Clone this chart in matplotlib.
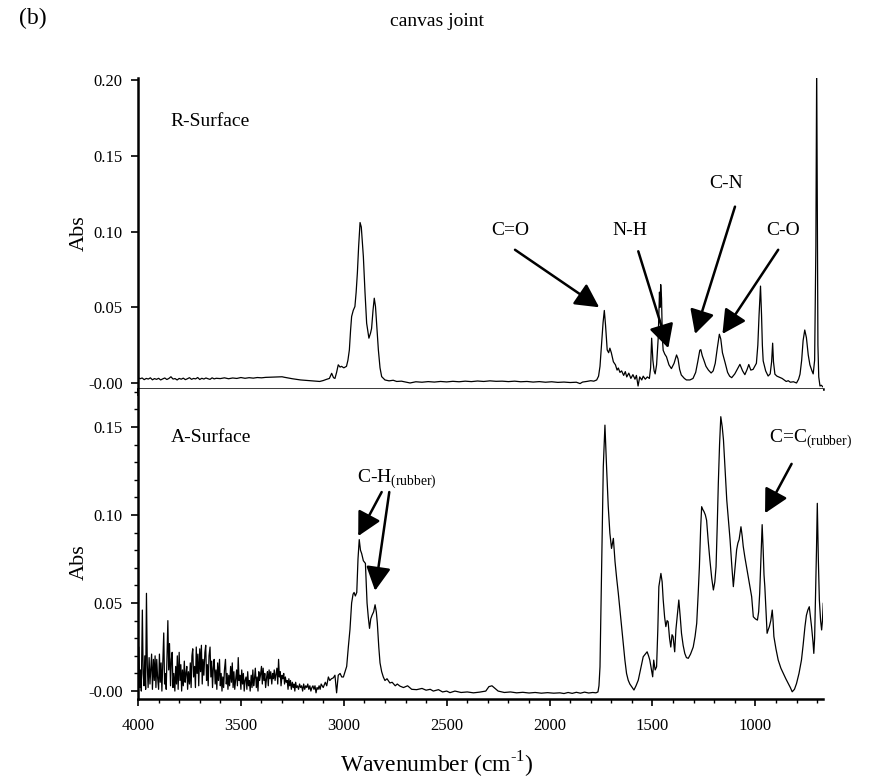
import numpy as np
import matplotlib.pyplot as plt
from matplotlib.ticker import MultipleLocator, FixedLocator, FixedFormatter

plt.rcParams['font.family'] = ['Liberation Serif', 'DejaVu Serif']
plt.rcParams['mathtext.fontset'] = 'custom'
plt.rcParams['mathtext.rm'] = 'Liberation Serif'
plt.rcParams['axes.unicode_minus'] = False

# R-Surface spectrum (wavenumber in cm-1, absorbance)
r_wn = [4000, 3990, 3980, 3970, 3960, 3950, 3940, 3930, 3920, 3910, 3900, 3890, 3880, 3870,
        3860, 3850, 3840, 3830, 3820, 3810, 3800, 3790, 3780, 3770, 3760, 3750, 3740, 3730,
        3720, 3710, 3700, 3690, 3680, 3670, 3660, 3650, 3640, 3630, 3620, 3600, 3580, 3560,
        3540, 3520, 3500, 3480, 3460, 3440, 3420, 3400, 3380, 3360, 3340, 3320, 3300, 3290,
        3270, 3250, 3230, 3210, 3190, 3165, 3140, 3117, 3100, 3084, 3070, 3059, 3050, 3043,
        3035, 3027, 3018, 3011, 3000, 2987, 2980, 2973, 2967, 2962, 2954, 2946, 2940, 2934,
        2928, 2921, 2915, 2905, 2897, 2889, 2878, 2870, 2865, 2858, 2852, 2846, 2840, 2832,
        2824, 2816, 2800, 2780, 2760, 2743, 2720, 2700, 2678, 2650, 2620, 2590, 2560, 2530,
        2500, 2470, 2440, 2410, 2380, 2350, 2320, 2290, 2260, 2230, 2200, 2170, 2140, 2110,
        2080, 2050, 2020, 1990, 1960, 1930, 1900, 1870, 1852, 1840, 1820, 1800, 1785, 1771,
        1762, 1755, 1748, 1740, 1734, 1728, 1720, 1713, 1707, 1700, 1690, 1680, 1672, 1666,
        1658, 1650, 1640, 1632, 1625, 1615, 1605, 1595, 1585, 1578, 1570, 1562, 1552, 1545,
        1535, 1525, 1515, 1509, 1504, 1498, 1492, 1487, 1480, 1472, 1466, 1463, 1460, 1456,
        1452, 1448, 1440, 1432, 1420, 1408, 1395, 1383, 1376, 1368, 1360, 1345, 1335, 1318,
        1303, 1290, 1280, 1270, 1265, 1258, 1250, 1240, 1228, 1215, 1205, 1195, 1185, 1175,
        1168, 1160, 1147, 1135, 1125, 1115, 1100, 1088, 1075, 1062, 1051, 1040, 1032, 1022,
        1011, 1003, 995, 988, 982, 975, 970, 966, 962, 950, 938, 928, 921, 916, 912, 905,
        895, 881, 870, 860, 850, 840, 830, 815, 800, 790, 783, 775, 768, 760, 752, 743, 735,
        725, 719, 712, 706, 702, 699, 696, 692, 686, 680, 672]
r_abs = [0.0035, 0.0028, 0.0033, 0.0022, 0.0030, 0.0026, 0.0034, 0.0021, 0.0029, 0.0024, 0.0031,
         0.0020, 0.0027, 0.0033, 0.0023, 0.0030, 0.0041, 0.0026, 0.0029, 0.0020, 0.0030, 0.0025,
         0.0032, 0.0022, 0.0028, 0.0035, 0.0024, 0.0030, 0.0027, 0.0036, 0.0023, 0.0031, 0.0026,
         0.0033, 0.0028, 0.0024, 0.0034, 0.0027, 0.0031, 0.0029, 0.0034, 0.0028, 0.0033, 0.0030,
         0.0036, 0.0031, 0.0035, 0.0032, 0.0036, 0.0034, 0.0037, 0.0038, 0.0039, 0.0040, 0.0041,
         0.0038, 0.0033, 0.0028, 0.0024, 0.0020, 0.0018, 0.0015, 0.0013, 0.0010, 0.0016, 0.0024,
         0.0030, 0.0064, 0.0035, 0.0030, 0.0070, 0.0120, 0.0105, 0.0110, 0.0100, 0.0110, 0.0150,
         0.0218, 0.0350, 0.0439, 0.0480, 0.0505, 0.0600, 0.0728, 0.0900, 0.1060, 0.1030, 0.0836,
         0.0600, 0.0395, 0.0296, 0.0330, 0.0360, 0.0480, 0.0560, 0.0505, 0.0380, 0.0218, 0.0100,
         0.0042, 0.0020, 0.0014, 0.0018, 0.0010, 0.0012, 0.0006, 0.0000, 0.0008, 0.0005, 0.0009,
         0.0006, 0.0010, 0.0007, 0.0011, 0.0008, 0.0012, 0.0009, 0.0013, 0.0010, 0.0014, 0.0011,
         0.0012, 0.0009, 0.0012, 0.0008, 0.0010, 0.0006, 0.0009, 0.0005, 0.0008, 0.0004, 0.0006,
         0.0003, 0.0005, -0.0004, 0.0006, 0.0010, 0.0015, 0.0012, 0.0020, 0.0045, 0.0110, 0.0250,
         0.0400, 0.0479, 0.0380, 0.0218, 0.0200, 0.0230, 0.0200, 0.0140, 0.0120, 0.0085, 0.0099,
         0.0070, 0.0080, 0.0050, 0.0075, 0.0040, 0.0065, 0.0030, 0.0055, 0.0025, 0.0050, -0.0020,
         0.0040, 0.0020, 0.0045, 0.0025, 0.0040, 0.0030, 0.0100, 0.0296, 0.0150, 0.0080, 0.0060,
         0.0120, 0.0300, 0.0600, 0.0500, 0.0650, 0.0560, 0.0300, 0.0216, 0.0190, 0.0173, 0.0120,
         0.0095, 0.0130, 0.0185, 0.0160, 0.0090, 0.0053, 0.0030, 0.0020, 0.0020, 0.0030, 0.0070,
         0.0140, 0.0216, 0.0220, 0.0180, 0.0150, 0.0110, 0.0085, 0.0066, 0.0080, 0.0130, 0.0230,
         0.0322, 0.0290, 0.0200, 0.0134, 0.0070, 0.0045, 0.0035, 0.0060, 0.0090, 0.0123, 0.0080,
         0.0055, 0.0090, 0.0122, 0.0085, 0.0090, 0.0110, 0.0130, 0.0250, 0.0450, 0.0640, 0.0450,
         0.0250, 0.0146, 0.0080, 0.0046, 0.0060, 0.0140, 0.0263, 0.0140, 0.0058, 0.0045, 0.0037,
         0.0030, 0.0020, 0.0010, 0.0015, 0.0005, 0.0008, 0.0000, 0.0025, 0.0058, 0.0150, 0.0280,
         0.0350, 0.0300, 0.0185, 0.0120, 0.0080, 0.0060, 0.0150, 0.0900, 0.2100, 0.1200, 0.0250,
         0.0040, -0.0020, -0.0015, -0.0025]

# A-Surface spectrum
a_wn = [4000, 3996, 3992, 3988, 3984, 3979, 3975, 3971, 3967, 3963, 3959, 3955, 3951, 3946,
        3942, 3938, 3934, 3930, 3925, 3921, 3917, 3913, 3909, 3905, 3900, 3896, 3892, 3888,
        3884, 3879, 3875, 3871, 3867, 3863, 3859, 3855, 3851, 3847, 3842, 3838, 3834, 3830,
        3826, 3821, 3817, 3813, 3809, 3805, 3800, 3796, 3792, 3788, 3784, 3780, 3775, 3771,
        3767, 3763, 3759, 3755, 3750, 3746, 3742, 3738, 3734, 3730, 3725, 3721, 3717, 3713,
        3709, 3705, 3700, 3696, 3692, 3688, 3684, 3680, 3675, 3671, 3667, 3663, 3659, 3655,
        3650, 3646, 3642, 3638, 3634, 3630, 3625, 3621, 3617, 3613, 3609, 3604, 3600, 3596,
        3592, 3588, 3584, 3580, 3575, 3571, 3567, 3563, 3559, 3555, 3550, 3546, 3542, 3538,
        3534, 3530, 3525, 3521, 3517, 3513, 3509, 3505, 3500, 3496, 3492, 3488, 3484, 3480,
        3475, 3471, 3467, 3463, 3459, 3455, 3450, 3446, 3442, 3438, 3434, 3430, 3425, 3421,
        3417, 3413, 3409, 3405, 3400, 3396, 3392, 3388, 3384, 3380, 3375, 3371, 3367, 3363,
        3359, 3355, 3350, 3346, 3342, 3338, 3334, 3330, 3325, 3321, 3317, 3313, 3309, 3305,
        3300, 3296, 3292, 3288, 3284, 3280, 3275, 3271, 3267, 3263, 3259, 3255, 3250, 3246,
        3242, 3238, 3234, 3230, 3225, 3220, 3215, 3210, 3205, 3200, 3195, 3190, 3185, 3180,
        3175, 3170, 3165, 3160, 3155, 3150, 3145, 3140, 3135, 3130, 3125, 3120, 3115, 3110,
        3100, 3090, 3083, 3075, 3068, 3060, 3051, 3043, 3035, 3027, 3018, 3010, 3002, 2994,
        2986, 2978, 2970, 2962, 2955, 2950, 2944, 2937, 2931, 2925, 2919, 2913, 2905, 2895,
        2887, 2881, 2875, 2869, 2863, 2855, 2848, 2842, 2837, 2830, 2824, 2816, 2808, 2800,
        2790, 2776, 2765, 2750, 2740, 2727, 2710, 2690, 2670, 2646, 2620, 2600, 2580, 2565,
        2540, 2520, 2500, 2484, 2460, 2430, 2400, 2370, 2340, 2310, 2295, 2280, 2265, 2250,
        2220, 2190, 2160, 2130, 2100, 2070, 2040, 2010, 1980, 1950, 1930, 1910, 1890, 1870,
        1850, 1830, 1810, 1790, 1775, 1765, 1760, 1755, 1747, 1739, 1731, 1723, 1715, 1707,
        1699, 1690, 1682, 1674, 1666, 1658, 1650, 1642, 1634, 1626, 1618, 1610, 1601, 1590,
        1580, 1569, 1557, 1545, 1535, 1526, 1519, 1513, 1505, 1499, 1494, 1487, 1480, 1474,
        1469, 1459, 1453, 1448, 1441, 1435, 1429, 1424, 1417, 1411, 1405, 1400, 1392, 1386,
        1380, 1372, 1365, 1359, 1351, 1343, 1335, 1326, 1315, 1302, 1293, 1285, 1278, 1272,
        1266, 1261, 1255, 1250, 1243, 1237, 1229, 1221, 1212, 1204, 1197, 1191, 1185, 1180,
        1174, 1168, 1161, 1155, 1147, 1139, 1131, 1123, 1115, 1107, 1099, 1091, 1085, 1079,
        1074, 1070, 1064, 1059, 1051, 1043, 1030, 1018, 1010, 1000, 990, 984, 979, 973, 967,
        962, 958, 954, 948, 943, 937, 932, 925, 918, 914, 910, 900, 889, 876, 864, 852, 840,
        830, 821, 810, 800, 788, 776, 768, 759, 752, 745, 738, 733, 727, 720, 716, 712, 708,
        703, 699, 694, 689, 683, 678, 674, 670]
a_abs = [0.004, 0.025, 0.002, 0.012, 0.000, 0.046, 0.010, 0.003, 0.020, 0.001, 0.0555, 0.015,
         0.002, 0.019, 0.004, 0.012, 0.021, 0.001, 0.018, 0.006, 0.020, 0.002, 0.018, 0.008,
         0.001, 0.021, 0.005, 0.016, 0.000, 0.018, 0.033, 0.004, 0.010, 0.001, 0.021, 0.040,
         0.012, 0.027, 0.003, 0.018, 0.022, 0.002, 0.010, 0.000, 0.014, 0.004, 0.020, 0.001,
         0.022, 0.006, 0.015, 0.000, 0.012, 0.003, 0.017, 0.005, 0.010, 0.014, 0.001, 0.011,
         0.004, 0.016, 0.002, 0.020, 0.024, 0.008, 0.014, 0.002, 0.025, 0.010, 0.021, 0.003,
         0.024, 0.011, 0.026, 0.004, 0.018, 0.009, 0.022, 0.026, 0.006, 0.015, 0.003, 0.020,
         0.025, 0.008, 0.017, 0.002, 0.013, 0.018, 0.004, 0.012, 0.001, 0.016, 0.006, 0.018,
         0.003, 0.010, 0.000, 0.008, 0.002, 0.012, 0.018, 0.004, 0.010, 0.001, 0.009, 0.003,
         0.014, 0.005, 0.016, 0.002, 0.011, 0.001, 0.007, 0.012, 0.003, 0.019, 0.006, 0.009,
         0.001, 0.012, 0.004, 0.010, 0.000, 0.006, 0.008, 0.001, 0.011, 0.003, 0.006, 0.000,
         0.009, 0.002, 0.012, 0.003, 0.007, 0.013, 0.002, 0.008, 0.000, 0.011, 0.006, 0.009,
         0.014, 0.004, 0.013, 0.006, 0.010, 0.002, 0.008, 0.011, 0.003, 0.012, 0.007, 0.011,
         0.004, 0.010, 0.007, 0.012, 0.006, 0.009, 0.013, 0.004, 0.018, 0.008, 0.011, 0.003,
         0.009, 0.007, 0.010, 0.004, 0.008, 0.005, 0.006, 0.001, 0.007, 0.003, 0.006, 0.001,
         0.005, 0.002, 0.004, 0.000, 0.005, 0.002, 0.003, 0.001, 0.004, 0.002, 0.003, 0.000,
         0.004, 0.001, 0.003, 0.002, 0.004, 0.001, 0.003, 0.000, 0.002, 0.003, 0.001, 0.003,
         -0.001, 0.002, 0.001, 0.003, 0.001, 0.004, 0.002, 0.005, 0.003, 0.008, 0.006, 0.007,
         0.0075, 0.009, -0.001, 0.009, 0.010, 0.008, 0.008, 0.011, 0.014, 0.025, 0.035, 0.050,
         0.055, 0.056, 0.054, 0.056, 0.075, 0.086, 0.080, 0.078, 0.074, 0.0725, 0.050, 0.042,
         0.0356, 0.041, 0.043, 0.045, 0.049, 0.045, 0.0385, 0.025, 0.016, 0.011, 0.008, 0.006,
         0.007, 0.0046, 0.005, 0.003, 0.004, 0.0028, 0.002, 0.003, 0.001, 0.0008, 0.0015,
         0.0005, 0.001, 0.000, 0.0008, -0.0005, 0.000, -0.0009, 0.000, -0.0008, -0.0005, -0.0010,
         -0.0006, 0.000, 0.0025, 0.0030, 0.0015, 0.000, -0.0008, -0.0005, -0.0010, -0.0007,
         -0.0011, -0.0008, -0.0012, -0.0009, -0.0012, -0.0010, -0.0014, -0.0008, -0.0013,
         -0.0007, -0.0012, -0.0006, -0.0011, -0.0008, -0.0010, -0.0005, 0.0030, 0.0138, 0.0706,
         0.1274, 0.151, 0.127, 0.105, 0.0896, 0.081, 0.0867, 0.0735, 0.064, 0.0555, 0.046,
         0.0366, 0.027, 0.0176, 0.010, 0.0062, 0.004, 0.0025, 0.0006, 0.003, 0.0062, 0.013,
         0.0195, 0.021, 0.0223, 0.020, 0.0176, 0.012, 0.0081, 0.0176, 0.012, 0.0138, 0.035,
         0.0593, 0.0668, 0.062, 0.052, 0.042, 0.0366, 0.040, 0.0394, 0.030, 0.025, 0.032,
         0.031, 0.0223, 0.035, 0.0422, 0.0517, 0.042, 0.0328, 0.026, 0.0214, 0.019, 0.0186,
         0.021, 0.025, 0.031, 0.0385, 0.055, 0.0706, 0.092, 0.1047, 0.103, 0.102, 0.100,
         0.097, 0.085, 0.0744, 0.064, 0.0574, 0.062, 0.0706, 0.095, 0.118, 0.140, 0.1558,
         0.150, 0.1426, 0.125, 0.1085, 0.097, 0.086, 0.072, 0.0593, 0.070, 0.0803, 0.084,
         0.086, 0.090, 0.0933, 0.088, 0.0822, 0.076, 0.0706, 0.062, 0.0536, 0.0422, 0.041,
         0.0403, 0.045, 0.0555, 0.075, 0.0945, 0.080, 0.066, 0.0593, 0.045, 0.0328, 0.035,
         0.0366, 0.040, 0.046, 0.040, 0.031, 0.024, 0.0176, 0.013, 0.010, 0.007, 0.0043,
         0.002, -0.0004, 0.001, 0.0043, 0.010, 0.0176, 0.026, 0.0366, 0.043, 0.046, 0.0479,
         0.043, 0.0366, 0.028, 0.0214, 0.030, 0.0517, 0.080, 0.1066, 0.075, 0.0517, 0.040,
         0.0347, 0.040, 0.0498]

# band labels: text, text position, arrow start, arrow tip
r_bands = [('C=O', (2192, 0.101), (2168, 0.088), (1759, 0.050)),
           ('N-H', (1609, 0.101), (1569, 0.087), (1423, 0.023)),
           ('C-N', (1140, 0.132), (1099, 0.1165), (1293, 0.0324)),
           ('C-O', (864, 0.101), (889, 0.088), (1160, 0.0324))]

top_ticks = [0.0, 0.05, 0.10, 0.15, 0.20]
top_labels = ['-0.00', '0.05', '0.10', '0.15', '0.20']
bot_ticks = [0.0, 0.05, 0.10, 0.15]
bot_labels = ['-0.00', '0.05', '0.10', '0.15']

fig = plt.figure(figsize=(8.73, 7.79), dpi=100)
ax1 = fig.add_axes([0.1581, 0.5006, 0.7847, 0.3993])
ax2 = fig.add_axes([0.1581, 0.1027, 0.7847, 0.3979])

arrow = dict(arrowstyle='-|>,head_length=0.8,head_width=0.42', color='black',
             lw=1.8, mutation_scale=18, shrinkA=0, shrinkB=0)

for ax in (ax1, ax2):
    ax.set_xlim(4000, 671)
    for s in ('top', 'right'):
        ax.spines[s].set_visible(False)
    for s in ('left', 'bottom'):
        ax.spines[s].set_linewidth(1.8)
    ax.xaxis.set_major_locator(MultipleLocator(500))
    ax.xaxis.set_minor_locator(MultipleLocator(100))
    ax.tick_params(axis='both', which='major', direction='out', length=5, width=1.2,
                   labelsize=12)
    ax.tick_params(axis='y', which='major', pad=6)
    ax.tick_params(axis='x', which='major', pad=9)
    ax.tick_params(axis='both', which='minor', direction='out', length=3, width=1.0)

ax1.plot(r_wn, r_abs, color='black', lw=0.9)
ax1.set_ylim(-0.004, 0.2015)
ax1.yaxis.set_major_locator(FixedLocator(top_ticks))
ax1.yaxis.set_major_formatter(FixedFormatter(top_labels))
ax1.tick_params(axis='x', which='both', labelbottom=False)
ax1.set_ylabel('Abs', fontsize=16)
ax1.yaxis.set_label_coords(-0.072, 0.5)
ax1.text(3845, 0.173, 'R-Surface', fontsize=14, va='center', ha='left')
for name, txt, start, tip in r_bands:
    ax1.text(txt[0], txt[1], name, fontsize=14, ha='center', va='center')
    ax1.annotate('', xy=tip, xytext=start, arrowprops=arrow)

ax2.plot(a_wn, a_abs, color='black', lw=0.9)
ax2.set_ylim(-0.0045, 0.1715)
ax2.yaxis.set_major_locator(FixedLocator(bot_ticks))
ax2.yaxis.set_major_formatter(FixedFormatter(bot_labels))
ax2.yaxis.set_minor_locator(MultipleLocator(0.01))
ax2.set_ylabel('Abs', fontsize=16)
ax2.yaxis.set_label_coords(-0.072, 0.44)
ax2.text(3840, 0.144, 'A-Surface', fontsize=14, va='center', ha='left')

ax2.text(2936, 0.120, r'C-H$_{\rm (rubber)}$', fontsize=14, ha='left', va='center')
ax2.annotate('', xy=(2930, 0.088), xytext=(2816, 0.113), arrowprops=arrow)
ax2.annotate('', xy=(2848, 0.057), xytext=(2779, 0.113), arrowprops=arrow)
ax2.text(934, 0.143, r'C=C$_{\rm (rubber)}$', fontsize=14, ha='left', va='center')
ax2.annotate('', xy=(953, 0.101), xytext=(824, 0.129), arrowprops=arrow)

fig.text(0.022, 0.976, '(b)', fontsize=17, va='center', ha='left')
fig.text(0.5, 0.972, 'canvas joint', fontsize=14, va='center', ha='center')
fig.text(0.5, 0.018, r'Wavenumber (cm$^{\text{-1}}$)', fontsize=17, va='center', ha='center')

fig.savefig('out.png', dpi=100)
